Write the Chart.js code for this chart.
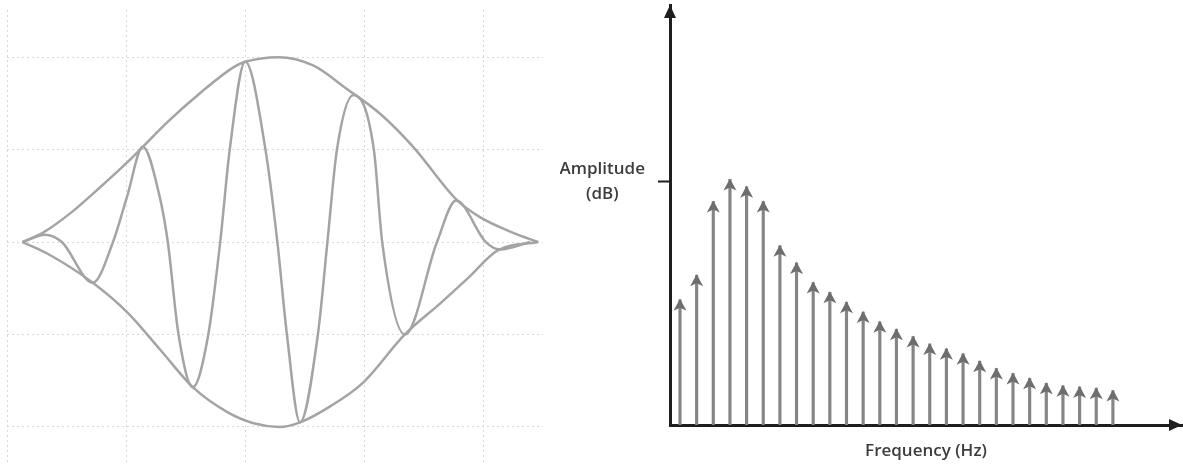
<!DOCTYPE html>
<html>
<head>
<meta charset="utf-8">
<script src="https://cdn.jsdelivr.net/npm/chart.js@4.4.1/dist/chart.umd.min.js"></script>
<style>
    html, body { margin: 0; padding: 0; background: #fff; }
    #contenedor { position: relative; width: 1183px; height: 466px; }
    #onda { position: absolute; left: 0; top: 0; }
    #espectro { position: absolute; left: 560px; top: 0; }
</style>
</head>
<body>
<div id="contenedor">
    <canvas id="onda" width="560" height="466"></canvas>
    <canvas id="espectro" width="623" height="466"></canvas>
</div>
<script>
// Senal modulada (tiempo en divisiones de la reticula)
let tiempoOnda = [0.13, 0.32, 0.46, 0.72, 0.89, 1.01, 1.14, 1.28, 1.35, 1.44, 1.56, 1.69, 1.79, 1.87, 2.00, 2.17, 2.27,
                  2.35, 2.46, 2.61, 2.69, 2.77, 2.91, 3.08, 3.15, 3.34, 3.61, 3.77, 4.02, 4.14, 4.39];
let valorOnda = [0, 0.08, 0, -0.44, 0, 0.5, 1.03, 0.5, 0, -1.0, -1.57, -1.0, 0, 1.0, 1.95, 1.0, 0,
                 -1.0, -1.95, -1.0, 0, 1.0, 1.59, 1.0, 0, -1.0, 0, 0.45, 0, -0.08, 0];

// Envolvente superior e inferior
let tiempoSup = [0.13, 0.30, 0.53, 0.78, 1.00, 1.14, 1.34, 1.62, 1.90, 2.00, 2.28, 2.57, 2.86, 3.13, 3.41, 3.78, 3.97, 4.25, 4.46];
let envSup = [0, 0.10, 0.31, 0.59, 0.85, 1.03, 1.29, 1.61, 1.89, 1.95, 2.00, 1.91, 1.65, 1.39, 1.03, 0.45, 0.27, 0.10, 0];
let tiempoInf = [0.13, 0.36, 0.72, 1.01, 1.29, 1.56, 1.85, 2.07, 2.29, 2.46, 2.71, 2.99, 3.34, 3.64, 3.87, 4.12, 4.46];
let envInf = [0, -0.14, -0.44, -0.76, -1.17, -1.57, -1.84, -1.96, -2.00, -1.95, -1.78, -1.52, -1.00, -0.66, -0.39, -0.09, 0];

let divisionesX = [0, 1, 2, 3, 4];
let divisionesY = [-2, -1, 0, 1, 2];

// Espectro: armonicos y su amplitud
let armonicos = [1, 2, 3, 4, 5, 6, 7, 8, 9, 10, 11, 12, 13, 14, 15, 16, 17, 18, 19, 20, 21, 22, 23, 24, 25, 26, 27];
let amplitudes = [51, 61, 91, 100, 97, 91, 73, 66, 58, 54, 50, 46, 42, 39, 36, 33, 31, 29, 26, 23, 21, 19, 17, 16, 15.5, 15, 14];
let marcaAmplitud = 99;

let colorLinea = '#a4a4a4';
let colorEje = '#1e1e1e';

function puntos(xs, ys){
    let lista = [];
    for(let i = 0; i < xs.length; i++){
        lista.push({x: xs[i], y: ys[i]});
    }
    return lista;
}

function serieCurva(datos){
    return {
        data: datos,
        showLine: true,
        borderColor: colorLinea,
        borderWidth: 2.5,
        pointRadius: 0,
        cubicInterpolationMode: 'monotone'
    };
}

function crearOnda(){
    const ctx = document.getElementById('onda').getContext('2d');
    new Chart(ctx, {
        type: 'scatter',
        data: {
            datasets: [
                serieCurva(puntos(tiempoSup, envSup)),
                serieCurva(puntos(tiempoInf, envInf)),
                serieCurva(puntos(tiempoOnda, valorOnda))
            ]
        },
        options: {
            responsive: false,
            animation: false,
            devicePixelRatio: 1,
            layout: { padding: { left: 7, right: 17, top: 10, bottom: 3 } },
            plugins: { legend: { display: false }, tooltip: { enabled: false } },
            scales: {
                x: {
                    type: 'linear', min: 0, max: 4.5,
                    afterBuildTicks: function(s){ s.ticks = divisionesX.map(v => ({value: v})); },
                    afterFit: function(s){ s.height = 0; },
                    ticks: { display: false },
                    border: { display: false, dash: [2, 3] },
                    grid: { color: '#d8d8d8', lineWidth: 1, drawTicks: false }
                },
                y: {
                    type: 'linear', min: -2.39, max: 2.51,
                    afterBuildTicks: function(s){ s.ticks = divisionesY.map(v => ({value: v})); },
                    afterFit: function(s){ s.width = 0; },
                    ticks: { display: false },
                    border: { display: false, dash: [2, 3] },
                    grid: { color: '#d8d8d8', lineWidth: 1, drawTicks: false }
                }
            }
        }
    });
}

// Puntas de flecha en cada linea espectral y en los ejes
let puntasFlecha = {
    id: 'puntasFlecha',
    afterDatasetsDraw(chart){
        const ctx = chart.ctx;
        const meta = chart.getDatasetMeta(0);
        ctx.save();
        ctx.fillStyle = '#6e6e6e';
        for(let barra of meta.data){
            ctx.beginPath();
            ctx.moveTo(barra.x, barra.y - 1);
            ctx.lineTo(barra.x + 6.5, barra.y + 11);
            ctx.lineTo(barra.x, barra.y + 8);
            ctx.lineTo(barra.x - 6.5, barra.y + 11);
            ctx.closePath();
            ctx.fill();
        }
        const a = chart.chartArea;
        ctx.fillStyle = colorEje;
        ctx.beginPath();
        ctx.moveTo(a.left, a.top);
        ctx.lineTo(a.left + 6, a.top + 13);
        ctx.lineTo(a.left - 6, a.top + 13);
        ctx.closePath();
        ctx.fill();
        ctx.beginPath();
        ctx.moveTo(a.right, a.bottom);
        ctx.lineTo(a.right - 13, a.bottom - 6);
        ctx.lineTo(a.right - 13, a.bottom + 6);
        ctx.closePath();
        ctx.fill();
        ctx.restore();
    }
};

function crearEspectro(){
    const ctx = document.getElementById('espectro').getContext('2d');
    new Chart(ctx, {
        type: 'bar',
        data: {
            datasets: [{
                data: puntos(armonicos, amplitudes),
                backgroundColor: '#858585',
                barThickness: 2.5
            }]
        },
        options: {
            responsive: false,
            animation: false,
            devicePixelRatio: 1,
            layout: { padding: { left: 0, right: 1, top: 5, bottom: 0 } },
            plugins: { legend: { display: false }, tooltip: { enabled: false } },
            scales: {
                x: {
                    type: 'linear', min: 0.4, max: 31.15, offset: false,
                    afterFit: function(s){ s.height = 41; s.paddingLeft = 0; s.paddingRight = 0; },
                    ticks: { display: false },
                    grid: { drawOnChartArea: false, drawTicks: false, offset: false },
                    border: { color: colorEje, width: 3 },
                    title: {
                        display: true, text: 'Frequency (Hz)', color: '#3c3c3c',
                        font: { family: 'Open Sans', size: 17, weight: '600' }, padding: { top: 0, bottom: 5 }
                    }
                },
                y: {
                    min: 0, max: 171,
                    afterBuildTicks: function(s){ s.ticks = [{value: marcaAmplitud}]; },
                    afterFit: function(s){ s.width = 110; s.paddingTop = 0; s.paddingBottom = 0; },
                    ticks: {
                        callback: function(){ return ['Amplitude', '(dB)']; },
                        crossAlign: 'center', padding: 13, color: '#3c3c3c',
                        font: { family: 'Open Sans', size: 17, weight: '600', lineHeight: 1.45 }
                    },
                    grid: { drawOnChartArea: false, drawTicks: true, tickLength: 12, tickColor: colorEje, tickWidth: 2 },
                    border: { color: colorEje, width: 3 }
                }
            }
        },
        plugins: [puntasFlecha]
    });
}

crearOnda();
crearEspectro();
</script>
</body>
</html>
